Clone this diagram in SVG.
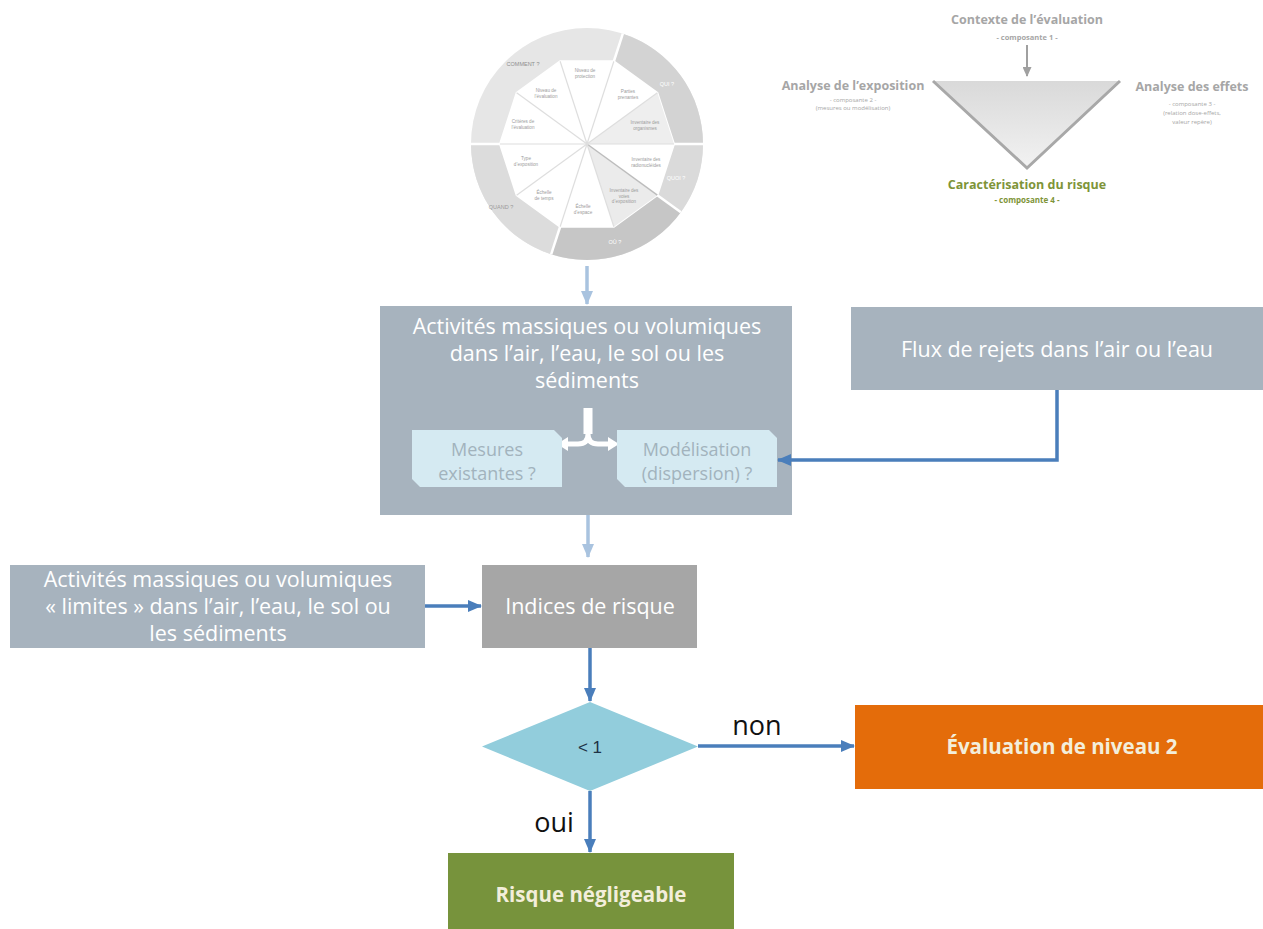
<svg xmlns="http://www.w3.org/2000/svg" width="1263" height="929" viewBox="0 0 1263 929">
  <defs>
    <style>
      .box { fill: #a7b3be; }
      .boxtxt { font-family: "Open Sans", "Liberation Sans", sans-serif; font-size: 21.5px; fill: #ffffff; text-anchor: middle; }
      .sub { fill: #d5eaf2; }
      .subtxt { font-family: "Open Sans", "Liberation Sans", sans-serif; font-size: 18px; fill: #a2b3bd; text-anchor: middle; }
      .flow { fill: none; stroke: #4a7ebb; stroke-width: 3.5; }
      .pale { fill: none; stroke: #a9c3df; stroke-width: 3.5; }
      .lbl { font-family: "Open Sans", "Liberation Sans", sans-serif; font-size: 27px; fill: #111111; text-anchor: middle; }
      .endtxt { font-family: "Open Sans", "Liberation Sans", sans-serif; font-size: 20.5px; font-weight: bold; fill: #f3eedb; text-anchor: middle; }
      .wh { font-family: "Liberation Sans", "DejaVu Sans", sans-serif; font-size: 4.6px; fill: #9c9c9c; text-anchor: middle; }
      .ring { font-family: "Liberation Sans", "DejaVu Sans", sans-serif; font-size: 5.5px; text-anchor: middle; }
      .spoke { stroke: #dedede; stroke-width: 1.2; }
      .gap { stroke: #ffffff; stroke-width: 2.5; }
      .tri { font-family: "Open Sans", "Liberation Sans", sans-serif; text-anchor: middle; fill: #a6a6a6; }
      .trig { font-family: "Open Sans", "Liberation Sans", sans-serif; text-anchor: middle; fill: #7e9438; font-weight: bold; }
    </style>
    <marker id="ahBlue" markerUnits="userSpaceOnUse" markerWidth="14" markerHeight="12" refX="13" refY="6" orient="auto">
      <path d="M0,0 L14,6 L0,12 Z" fill="#4a7ebb"/>
    </marker>
    <marker id="ahPale" markerUnits="userSpaceOnUse" markerWidth="14" markerHeight="12" refX="13" refY="6" orient="auto">
      <path d="M0,0 L14,6 L0,12 Z" fill="#a9c3df"/>
    </marker>
    <marker id="ahGray" markerUnits="userSpaceOnUse" markerWidth="10" markerHeight="9" refX="9" refY="4.5" orient="auto">
      <path d="M0,0 L10,4.5 L0,9 Z" fill="#a0a0a0"/>
    </marker>
    <linearGradient id="funnel" x1="0" y1="0" x2="0" y2="1">
      <stop offset="0" stop-color="#d9d9d9"/>
      <stop offset="1" stop-color="#f2f2f2"/>
    </linearGradient>
  </defs>

  <rect width="1263" height="929" fill="#ffffff"/>

  <!-- Assessment wheel -->
  <g id="wheel">
    <circle cx="587" cy="144" r="116" fill="#e6e6e6"/>
    <!-- outer ring sectors -->
    <path d="M622.85,33.68 A116,116 0 0 1 703,144 L674,144 L657.38,92.86 L613.88,61.26 Z" fill="#d3d3d3"/>
    <path d="M703,144 A116,116 0 0 1 680.85,212.18 L657.38,195.14 L674,144 Z" fill="#dadada"/>
    <path d="M680.85,212.18 A116,116 0 0 1 551.15,254.32 L560.12,226.74 L613.88,226.74 L657.38,195.14 Z" fill="#c6c6c6"/>
    <path d="M551.15,254.32 A116,116 0 0 1 471,144 L500,144 L516.62,195.14 L560.12,226.74 Z" fill="#dcdcdc"/>
    <!-- inner decagon -->
    <polygon points="613.88,61.26 657.38,92.86 674,144 657.38,195.14 613.88,226.74 560.12,226.74 516.62,195.14 500,144 516.62,92.86 560.12,61.26" fill="#ffffff" stroke="#ffffff" stroke-width="2"/>
    <polygon points="587,144 674,144 657.38,92.86" fill="#eeeeee"/>
    <polygon points="587,144 657.38,195.14 613.88,226.74" fill="#ebebeb"/>
    <line x1="587" y1="144" x2="657.38" y2="195.14" stroke="#bdbdbd" stroke-width="1.4"/>
    <!-- spokes -->
    <line class="spoke" x1="587" y1="144" x2="613.88" y2="61.26"/>
    <line class="spoke" x1="587" y1="144" x2="657.38" y2="92.86"/>
    <line class="spoke" x1="587" y1="144" x2="674" y2="144"/>
    <line class="spoke" x1="587" y1="144" x2="613.88" y2="226.74"/>
    <line class="spoke" x1="587" y1="144" x2="560.12" y2="226.74"/>
    <line class="spoke" x1="587" y1="144" x2="516.62" y2="195.14"/>
    <line class="spoke" x1="587" y1="144" x2="500" y2="144"/>
    <line class="spoke" x1="587" y1="144" x2="516.62" y2="92.86"/>
    <line class="spoke" x1="587" y1="144" x2="560.12" y2="61.26"/>
    <!-- ring separators -->
    <line class="gap" x1="613.88" y1="61.26" x2="622.85" y2="33.68"/>
    <line class="gap" x1="674" y1="144" x2="703" y2="144"/>
    <line class="gap" x1="657.38" y1="195.14" x2="680.85" y2="212.18"/>
    <line class="gap" x1="560.12" y1="226.74" x2="551.15" y2="254.32"/>
    <line class="gap" x1="500" y1="144" x2="471" y2="144"/>
    <!-- ring labels -->
    <text class="ring" x="523" y="66" fill="#8e8e8e">COMMENT ?</text>
    <text class="ring" x="667" y="86" fill="#ffffff">QUI ?</text>
    <text class="ring" x="676" y="180" fill="#ffffff">QUOI ?</text>
    <text class="ring" x="615" y="244" fill="#ffffff">OÙ ?</text>
    <text class="ring" x="501" y="209" fill="#9a9a9a">QUAND ?</text>
    <!-- sector labels -->
    <text class="wh" x="585" y="72"><tspan x="585">Niveau de</tspan><tspan x="585" dy="5.5">protection</tspan></text>
    <text class="wh" x="628" y="93"><tspan x="628">Parties</tspan><tspan x="628" dy="5.5">prenantes</tspan></text>
    <text class="wh" x="645" y="124"><tspan x="645">Inventaire des</tspan><tspan x="645" dy="5.5">organismes</tspan></text>
    <text class="wh" x="646" y="161" fill="#c4c4c4"><tspan x="646">Inventaire des</tspan><tspan x="646" dy="5.5">radionucléides</tspan></text>
    <text class="wh" x="624" y="192"><tspan x="624">Inventaire des</tspan><tspan x="624" dy="5.5">voies</tspan><tspan x="624" dy="5.5">d’exposition</tspan></text>
    <text class="wh" x="583" y="208"><tspan x="583">Échelle</tspan><tspan x="583" dy="5.5">d’espace</tspan></text>
    <text class="wh" x="544" y="194"><tspan x="544">Échelle</tspan><tspan x="544" dy="5.5">de temps</tspan></text>
    <text class="wh" x="526" y="160"><tspan x="526">Type</tspan><tspan x="526" dy="5.5">d’exposition</tspan></text>
    <text class="wh" x="523" y="123"><tspan x="523">Critères de</tspan><tspan x="523" dy="5.5">l’évaluation</tspan></text>
    <text class="wh" x="546" y="92"><tspan x="546">Niveau de</tspan><tspan x="546" dy="5.5">l’évaluation</tspan></text>
  </g>

  <!-- Risk assessment funnel -->
  <g id="funnel-diagram">
    <polygon points="933,81 1120,81 1027,168" fill="url(#funnel)"/>
    <path d="M933,81 L1027,168 L1120,81" fill="none" stroke="#a8a8a8" stroke-width="3"/>
    <line x1="1027" y1="45" x2="1027" y2="76" stroke="#a0a0a0" stroke-width="2" marker-end="url(#ahGray)"/>
    <text class="tri" x="1027" y="24" font-size="12.5" font-weight="bold">Contexte de l’évaluation</text>
    <text class="tri" x="1027" y="40" font-size="7.5" font-weight="bold">- composante 1 -</text>
    <text class="tri" x="853" y="90" font-size="12.5" font-weight="bold">Analyse de l’exposition</text>
    <text class="tri" x="853" y="102" font-size="6">- composante 2 -</text>
    <text class="tri" x="853" y="110" font-size="6">(mesures ou modélisation)</text>
    <text class="tri" x="1192" y="91" font-size="12.5" font-weight="bold">Analyse des effets</text>
    <text class="tri" x="1192" y="106" font-size="6">- composante 3 -</text>
    <text class="tri" x="1192" y="115" font-size="6">(relation dose-effets,</text>
    <text class="tri" x="1192" y="124" font-size="6">valeur repère)</text>
    <text class="trig" x="1027" y="189" font-size="12.5">Caractérisation du risque</text>
    <text class="trig" x="1027" y="203" font-size="8">- composante 4 -</text>
  </g>

  <!-- Activity concentration box with its two sources -->
  <g id="activites">
    <rect class="box" x="380" y="306" width="412" height="209"/>
    <text class="boxtxt" x="587" y="334">Activités massiques ou volumiques</text>
    <text class="boxtxt" x="587" y="361">dans l’air, l’eau, le sol ou les</text>
    <text class="boxtxt" x="587" y="388">sédiments</text>
  </g>

  <g id="split">
    <path d="M588,408 V434 Q588,444 578,444 H566 M588,434 Q588,444 598,444 H610" fill="none" stroke="#ffffff" stroke-width="5"/>
    <rect x="583.5" y="408" width="9" height="26" fill="#ffffff"/>
    <polygon points="557,444 568,437 568,451" fill="#ffffff"/>
    <polygon points="619,444 608,437 608,451" fill="#ffffff"/>
  </g>

  <g id="mesures">
    <path class="sub" d="M412,430 H554 L562,438 V487 H420 L412,479 Z"/>
    <text class="subtxt" x="487" y="456">Mesures</text>
    <text class="subtxt" x="487" y="480">existantes ?</text>
  </g>

  <g id="modelisation">
    <path class="sub" d="M617,430 H769 L777,438 V487 H625 L617,479 Z"/>
    <text class="subtxt" x="697" y="456">Modélisation</text>
    <text class="subtxt" x="697" y="480">(dispersion) ?</text>
  </g>

  <g id="flux">
    <rect class="box" x="851" y="307" width="412" height="83"/>
    <text class="boxtxt" x="1057" y="357">Flux de rejets dans l’air ou l’eau</text>
  </g>

  <g id="limites">
    <rect class="box" x="10" y="565" width="415" height="83"/>
    <text class="boxtxt" x="218" y="587">Activités massiques ou volumiques</text>
    <text class="boxtxt" x="218" y="614">« limites » dans l’air, l’eau, le sol ou</text>
    <text class="boxtxt" x="218" y="641">les sédiments</text>
  </g>

  <g id="indices">
    <rect x="482" y="565" width="215" height="83" fill="#a6a6a6"/>
    <text class="boxtxt" x="590" y="614">Indices de risque</text>
  </g>

  <g id="test">
    <polygon points="482,746.5 590,702 698,746.5 590,791" fill="#92cddc"/>
    <text x="590" y="753" font-family="Liberation Sans, sans-serif" font-size="17" fill="#1e3346" text-anchor="middle">&lt; 1</text>
  </g>

  <g id="niveau2">
    <rect x="855" y="705" width="408" height="84" fill="#e46c0a"/>
    <text class="endtxt" x="1062" y="754">Évaluation de niveau 2</text>
  </g>

  <g id="negligeable">
    <rect x="448" y="853" width="286" height="76" fill="#77933c"/>
    <text class="endtxt" x="591" y="902">Risque négligeable</text>
  </g>

  <!-- Connectors -->
  <g id="connectors">
    <line class="pale" x1="587" y1="266" x2="587" y2="304" marker-end="url(#ahPale)"/>
    <line class="pale" x1="588" y1="515" x2="588" y2="557" marker-end="url(#ahPale)"/>
    <path class="flow" d="M1057,390 V460 H778" marker-end="url(#ahBlue)"/>
    <line class="flow" x1="425" y1="606" x2="481" y2="606" marker-end="url(#ahBlue)"/>
    <line class="flow" x1="590" y1="648" x2="590" y2="701" marker-end="url(#ahBlue)"/>
    <line class="flow" x1="698" y1="746" x2="854" y2="746" marker-end="url(#ahBlue)"/>
    <line class="flow" x1="590" y1="791" x2="590" y2="852" marker-end="url(#ahBlue)"/>
    <text class="lbl" x="757" y="735">non</text>
    <text class="lbl" x="554" y="832">oui</text>
  </g>
</svg>
